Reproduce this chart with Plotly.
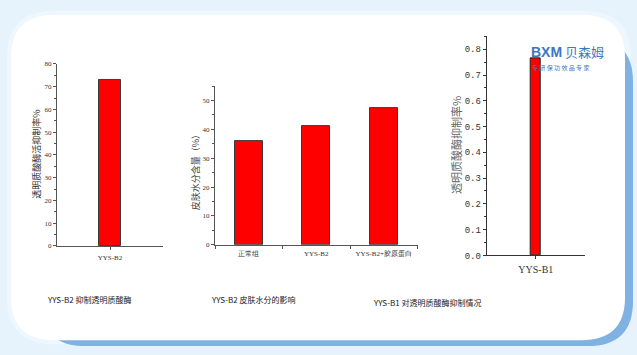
import plotly.graph_objects as go

W, H = 637, 355

# ---- data ----
c1_categories = ["YYS-B2"]
c1_values = [73.1]
c2_categories = ["正常组", "YYS-B2", "YYS-B2+胶原蛋白"]
c2_values = [36.1, 41.3, 47.3]
c3_categories = ["YYS-B1"]
c3_values = [0.765]

captions = ["YYS-B2 抑制透明质酸酶", "YYS-B2 皮肤水分的影响", "YYS-B1 对透明质酸酶抑制情况"]
ytitles = ["透明质酸酶活抑制率%", "皮肤水分含量（%）", "透明质酸酶抑制率%"]


def px(x):
    return x / W


def py(y):
    return 1 - y / H


def rrect(x0, y0, x1, y1, r):
    pts = [
        ("M", (x0 + r, y0)), ("L", (x1 - r, y0)), ("Q", (x1, y0), (x1, y0 + r)),
        ("L", (x1, y1 - r)), ("Q", (x1, y1), (x1 - r, y1)),
        ("L", (x0 + r, y1)), ("Q", (x0, y1), (x0, y1 - r)),
        ("L", (x0, y0 + r)), ("Q", (x0, y0), (x0 + r, y0)),
    ]
    s = ""
    for p in pts:
        cmd = p[0]
        coords = " ".join(f"{px(a):.5f},{py(b):.5f}" for a, b in p[1:])
        s += f"{cmd} {coords} "
    return s + "Z"


fig = go.Figure()

BAR_RED = "#ff0000"
EDGE = "#3a3a3a"
SANS = "Noto Sans CJK SC, Noto Sans, sans-serif"
SERIF = "Liberation Serif, DejaVu Serif, serif"

fig.add_trace(go.Bar(x=c1_categories, y=c1_values, width=0.2, marker=dict(color=BAR_RED, line=dict(color=EDGE, width=1)),
                     xaxis="x", yaxis="y", showlegend=False))
fig.add_trace(go.Bar(x=c2_categories, y=c2_values, width=0.41, marker=dict(color=BAR_RED, line=dict(color=EDGE, width=1)),
                     xaxis="x2", yaxis="y2", showlegend=False))
fig.add_trace(go.Bar(x=c3_categories, y=c3_values, width=0.1, marker=dict(color=BAR_RED, line=dict(color="#222", width=1)),
                     xaxis="x3", yaxis="y3", showlegend=False))

axcol = "#555555"
small = dict(family=SERIF, size=7, color="#333")


def xax(domain, anchor, color, font, tickson="labels"):
    return dict(domain=domain, anchor=anchor, showline=True, linecolor=color, linewidth=1,
                ticks="outside", ticklen=3, tickcolor=color, tickfont=font, showgrid=False,
                zeroline=False, fixedrange=True, tickson=tickson, ticklabelstandoff=2)


def yax(domain, anchor, rng, dtick, color, font, fmt=None):
    d = dict(domain=domain, anchor=anchor, range=rng, dtick=dtick, tick0=0, showline=True, linecolor=color,
             linewidth=1, ticks="outside", ticklen=3, tickcolor=color, tickfont=font, showgrid=False,
             zeroline=False, fixedrange=True,
             minor=dict(dtick=dtick / 2, tick0=0, ticks="outside", ticklen=2, tickcolor=color, showgrid=False))
    if fmt:
        d["tickformat"] = fmt
    return d


fig.update_layout(
    width=W, height=H, margin=dict(l=0, r=0, t=0, b=0),
    paper_bgcolor="#e6f3fd", plot_bgcolor="rgba(0,0,0,0)",
    bargap=0,
    xaxis=xax([px(57), px(163)], "y", axcol, small),
    yaxis=yax([py(249), py(61.7)], "x", [0, 80], 10, axcol, small),
    xaxis2=xax([px(215), px(417.5)], "y2", axcol, small, tickson="boundaries"),
    yaxis2=yax([py(247.7), py(84.5)], "x2", [0, 55], 10, axcol, small),
    xaxis3=xax([px(486.7), px(585)], "y3", "#333", dict(family=SERIF, size=10, color="#333")),
    yaxis3=yax([py(258.7), py(33.3)], "x3", [0, 0.85], 0.1, "#333",
               dict(family="Liberation Mono, DejaVu Sans Mono, monospace", size=9, color="#333"), ".1f"),
)

# frame decoration
shapes = [
    dict(type="path", xref="paper", yref="paper", path=rrect(7, 7, 631, 350, 48),
         fillcolor="#eef7fe", line=dict(width=0), layer="below"),
    dict(type="path", xref="paper", yref="paper", path=rrect(40, 34, 633, 352, 46),
         fillcolor="#7fb1e2", line=dict(width=0), layer="below"),
    dict(type="path", xref="paper", yref="paper", path=rrect(11, 11, 625, 346, 44),
         fillcolor="#ffffff", line=dict(width=0), layer="below"),
]
fig.update_layout(shapes=shapes)


def note(x, y, text, font, angle=0, xanchor="center"):
    return dict(x=px(x), y=py(y), xref="paper", yref="paper", text=text, textangle=angle, showarrow=False,
                xanchor=xanchor, yanchor="middle", font=font)


ann = []
# y-axis titles
ann.append(note(37, 155, ytitles[0], dict(family=SANS, size=9, color="#333"), -90))
ann.append(note(195, 171, ytitles[1], dict(family=SANS, size=9, color="#444"), -90))
ann.append(note(456, 145, ytitles[2], dict(family=SANS, size=11, color="#666"), -90))
# captions
for text, x, y in zip(captions, [45, 209, 371], [304, 304, 307]):
    ann.append(note(x, y, text, dict(family=SANS, size=8, color="#222"), xanchor="left"))
# logo
ann.append(note(529, 49, "<b>BXM</b>", dict(family="Liberation Sans, Arial, sans-serif", size=14, color="#3a78c2"),
                xanchor="left"))
ann.append(note(563, 49, "贝森姆", dict(family=SANS, size=13, color="#3a78c2"), xanchor="left"))
ann.append(note(530, 65, "专 研 保 功 效 品 专 家", dict(family=SANS, size=6, color="#3a78c2"), xanchor="left"))
fig.update_layout(annotations=ann)

fig.write_html("out.html", config={"displayModeBar": False},
               post_script="document.body.style.margin='0';document.body.style.overflow='hidden';")
